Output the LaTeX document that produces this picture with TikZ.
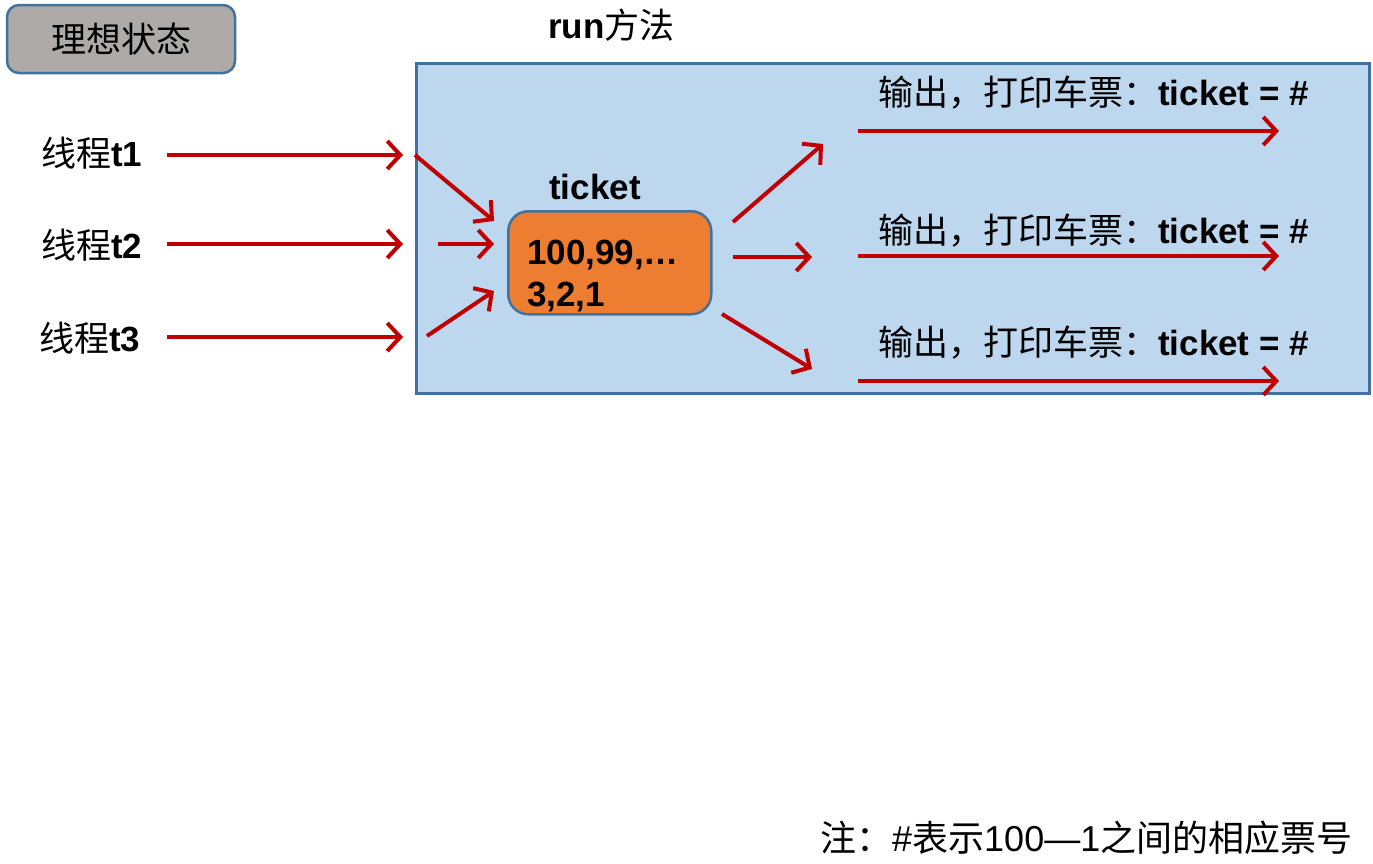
\documentclass[tikz,border=0pt]{standalone}
\usepackage{fontspec}
\setmainfont{Liberation Sans}
\newfontfamily\cjk{Noto Sans CJK SC}
\usetikzlibrary{arrows.meta}
\definecolor{redarr}{HTML}{C00000}
\definecolor{boxblue}{HTML}{BDD7EE}
\definecolor{edgeblue}{HTML}{41719C}
\definecolor{graybox}{HTML}{AEAAA8}
\definecolor{orangebox}{HTML}{ED7D31}
\newcommand\bigfs{\fontsize{35}{42}\selectfont}
\newcommand\tkfs{\fontsize{35}{42}\selectfont}
\newcommand\notefs{\fontsize{36}{42}\selectfont}
\begin{document}
\begin{tikzpicture}[x=1pt,y=-1pt,
  redarrow/.style={draw=redarr,line width=4pt,-{Straight Barb[length=13pt,width=28pt,line width=4pt]}},
  lbl/.style={inner sep=0pt,font=\bigfs},
  frame/.style={draw=edgeblue,line width=2.5pt}]
\useasboundingbox (0,0) rectangle (1373,863);

% title box
\node[frame,fill=graybox,rounded corners=12pt,minimum width=228pt,minimum height=68pt,inner sep=0pt,font=\bigfs] (title) at (121,39) {\cjk 理想状态};

% run label
\node[lbl,anchor=west] (runlbl) at (548,25) {\bfseries run\cjk\mdseries 方法};

% big box
\node[frame,fill=boxblue,minimum width=953pt,minimum height=330pt,inner sep=0pt,anchor=north west] (runbox) at (415,62) {};

% threads
\node[lbl,anchor=west] (t1) at (41,153) {{\cjk 线程}\bfseries t1};
\node[lbl,anchor=west] (t2) at (41,245) {{\cjk 线程}\bfseries t2};
\node[lbl,anchor=west] (t3) at (39,338) {{\cjk 线程}\bfseries t3};

\coordinate (t1s) at (167,155); \coordinate (t1e) at (403,155);
\coordinate (t2s) at (167,244); \coordinate (t2e) at (403,244);
\coordinate (t3s) at (167,337); \coordinate (t3e) at (403,337);
\draw[redarrow] (t1s) -- (t1e);
\draw[redarrow] (t2s) -- (t2e);
\draw[redarrow] (t3s) -- (t3e);

% ticket box
\node[lbl,font=\tkfs\bfseries] (ticketlbl) at (595,187) {ticket};
\node[frame,fill=orangebox,rounded corners=20pt,minimum width=203pt,minimum height=103pt,inner sep=0pt,anchor=north west] (ticket) at (507,210) {};
\node[inner sep=0pt,anchor=north west,align=left,font=\tkfs\bfseries] (nums) at (527,240) {100,99,…\\3,2,1};

% incoming arrows
\coordinate (i1s) at (415,155); \coordinate (i1e) at (494,221);
\coordinate (i2s) at (438,244); \coordinate (i2e) at (494,244);
\coordinate (i3s) at (427,336); \coordinate (i3e) at (494,291);
\draw[redarrow] (i1s) -- (i1e);
\draw[redarrow] (i2s) -- (i2e);
\draw[redarrow] (i3s) -- (i3e);

% outgoing arrows
\coordinate (o1s) at (733,222); \coordinate (o1e) at (823,144);
\coordinate (o2s) at (733,257); \coordinate (o2e) at (812,257);
\coordinate (o3s) at (722,314); \coordinate (o3e) at (812,369);
\draw[redarrow] (o1s) -- (o1e);
\draw[redarrow] (o2s) -- (o2e);
\draw[redarrow] (o3s) -- (o3e);

% outputs
\node[lbl,anchor=west] (out1) at (878,93) {{\cjk 输出，打印车票：}\textbf{ticket = \#}};
\node[lbl,anchor=west] (out2) at (878,231) {{\cjk 输出，打印车票：}\textbf{ticket = \#}};
\node[lbl,anchor=west] (out3) at (878,343) {{\cjk 输出，打印车票：}\textbf{ticket = \#}};
\coordinate (p1s) at (858,131); \coordinate (p1e) at (1279,131);
\coordinate (p2s) at (858,256); \coordinate (p2e) at (1279,256);
\coordinate (p3s) at (858,381); \coordinate (p3e) at (1279,381);
\draw[redarrow] (p1s) -- (p1e);
\draw[redarrow] (p2s) -- (p2e);
\draw[redarrow] (p3s) -- (p3e);

% note
\node[inner sep=0pt,font=\notefs,anchor=west] (note) at (820,838) {{\cjk 注：}\#{\cjk 表示}100—1{\cjk 之间的相应票号}};
\end{tikzpicture}
\end{document}
